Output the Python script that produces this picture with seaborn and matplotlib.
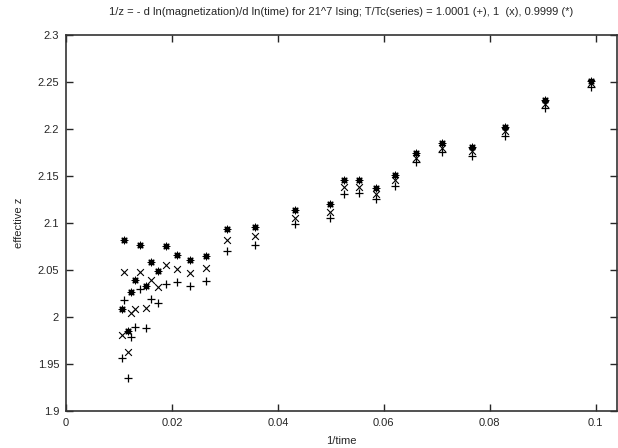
import numpy as np
import pandas as pd
import seaborn as sns
import matplotlib
matplotlib.use("Agg")
import matplotlib.pyplot as plt

# 1/time values shared by the three runs
inv_time = [0.0105, 0.0109, 0.0117, 0.0123, 0.0131, 0.0139, 0.0150, 0.0160,
            0.0174, 0.0189, 0.0209, 0.0234, 0.0264, 0.0303, 0.0357, 0.0433,
            0.0498, 0.0524, 0.0553, 0.0585, 0.0622, 0.0660, 0.0710, 0.0766,
            0.0829, 0.0904, 0.0992]

# effective z for T/Tc = 1.0001 (+)
z_plus = [1.9567, 2.0178, 1.9351, 1.979, 1.989, 2.0295, 1.9883, 2.0195,
          2.0149, 2.0354, 2.0376, 2.033, 2.0383, 2.0702, 2.0766, 2.099,
          2.1053, 2.131, 2.132, 2.1255, 2.139, 2.165, 2.175, 2.171,
          2.1926, 2.222, 2.245]

# T/Tc = 1 (x)
z_cross = [1.9812, 2.0482, 1.9631, 2.004, 2.0082, 2.0482, 2.0096, 2.0397,
           2.0316, 2.055, 2.0507, 2.0471, 2.0521, 2.0819, 2.0859, 2.1056,
           2.112, 2.1386, 2.138, 2.131, 2.1455, 2.169, 2.18, 2.1765,
           2.198, 2.227, 2.249]

# T/Tc = 0.9999 (*)
z_star = [2.0088, 2.0816, 1.9851, 2.0269, 2.039, 2.0766, 2.033, 2.0585,
          2.0489, 2.0752, 2.0656, 2.061, 2.0649, 2.0936, 2.096, 2.1142,
          2.1199, 2.1457, 2.1457, 2.137, 2.1505, 2.174, 2.185, 2.181,
          2.2025, 2.231, 2.251]

x_ticks = [0, 0.02, 0.04, 0.06, 0.08, 0.1]
x_tick_labels = ["0", "0.02", "0.04", "0.06", "0.08", "0.1"]
y_ticks = [1.9, 1.95, 2.0, 2.05, 2.1, 2.15, 2.2, 2.25, 2.3]
y_tick_labels = ["1.9", "1.95", "2", "2.05", "2.1", "2.15", "2.2", "2.25", "2.3"]

title = ("1/z = - d ln(magnetization)/d ln(time) for 21^7 Ising; "
         "T/Tc(series) = 1.0001 (+), 1  (x), 0.9999 (*)")

sns.set_style("ticks")
plt.rcParams["font.family"] = ["Liberation Sans", "DejaVu Sans"]

df = pd.DataFrame({"inv_time": inv_time, "plus": z_plus,
                   "cross": z_cross, "star": z_star})

fig = plt.figure(figsize=(6.18, 4.48), dpi=100)
ax = fig.add_axes([0.107, 0.083, 0.891, 0.839])

sns.scatterplot(data=df, x="inv_time", y="plus", marker="+", s=30,
                color="black", linewidth=0.9, ax=ax)
sns.scatterplot(data=df, x="inv_time", y="cross", marker="x", s=24,
                color="black", linewidth=0.8, ax=ax)
sns.scatterplot(data=df, x="inv_time", y="star", marker=(8, 2, 0), s=22,
                color="black", linewidth=0.9, ax=ax)

ax.set_xlim(0, 0.104)
ax.set_ylim(1.9, 2.3)
ax.set_xticks(x_ticks)
ax.set_xticklabels(x_tick_labels)
ax.set_yticks(y_ticks)
ax.set_yticklabels(y_tick_labels)
ax.tick_params(direction="in", length=5, width=1, labelsize=8,
               top=True, right=True, pad=5)
for side in ax.spines.values():
    side.set_visible(True)
    side.set_linewidth(1.2)
    side.set_color("#333333")

ax.set_xlabel("1/time", fontsize=8, labelpad=6)
ax.set_ylabel("effective z", fontsize=8, labelpad=10)
ax.set_title(title, fontsize=8, pad=14)

fig.savefig("out.png", dpi=100)
